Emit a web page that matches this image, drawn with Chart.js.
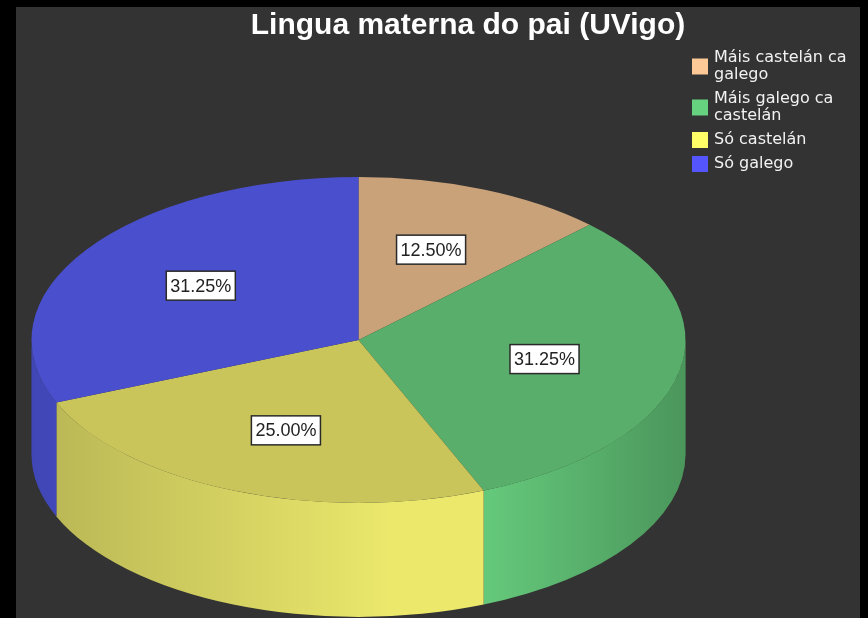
<!DOCTYPE html>
<html>
<head>
<meta charset="utf-8">
<script src="https://cdn.jsdelivr.net/npm/chart.js@4"></script>
<style>
  html, body { margin: 0; padding: 0; background: #000; }
  #wrap { position: absolute; left: 16px; top: 7px; width: 844px; height: 611px; background: #333333; }
</style>
</head>
<body>
<div id="wrap"><canvas id="chart"></canvas></div>
<script>
const title = 'Lingua materna do pai (UVigo)'
const categories = [
  ['Máis castelán ca', 'galego'],
  ['Máis galego ca', 'castelán'],
  ['Só castelán'],
  ['Só galego']
]
const percents = [12.5, 31.25, 25.0, 31.25]

const topColors = ['#c9a27a', '#58ae6a', '#c9c55b', '#4a4fcd']
const sideColors = ['#e6b98c', '#64c87a', '#ebe86c', '#525ae8']
const legendColors = ['#fec897', '#66d27f', '#fefe66', '#5555fe']

// ellipse the flat pie is projected onto (canvas px)
const PIE = { cx: 342.5, cy: 333, rx: 327, ry: 163, depth: 114 }

const pie3d = {
  id: 'pie3d',
  beforeDatasetsDraw (chart) {
    const ctx = chart.ctx
    const meta = chart.getDatasetMeta(0)
    const { x, y, outerRadius } = meta.data[0].getProps(['x', 'y', 'outerRadius'], true)

    // side walls, only the front half (angles 0..PI) is visible
    const shade = ctx.createLinearGradient(PIE.cx - PIE.rx, 0, PIE.cx + PIE.rx, 0)
    shade.addColorStop(0, 'rgba(0,0,0,0.22)')
    shade.addColorStop(0.55, 'rgba(0,0,0,0)')
    shade.addColorStop(0.7, 'rgba(0,0,0,0)')
    shade.addColorStop(1, 'rgba(0,0,0,0.25)')
    meta.data.forEach((arc, i) => {
      const { startAngle, endAngle } = arc.getProps(['startAngle', 'endAngle'], true)
      const a1 = Math.max(startAngle, 0)
      const a2 = Math.min(endAngle, Math.PI)
      if (a1 >= a2) return
      ctx.beginPath()
      ctx.ellipse(PIE.cx, PIE.cy, PIE.rx, PIE.ry, 0, a1, a2)
      ctx.ellipse(PIE.cx, PIE.cy + PIE.depth, PIE.rx, PIE.ry, 0, a2, a1, true)
      ctx.closePath()
      ctx.fillStyle = sideColors[i]
      ctx.fill()
      ctx.fillStyle = shade
      ctx.fill()
    })

    ctx.save()
    ctx.translate(PIE.cx, PIE.cy)
    ctx.scale(PIE.rx / outerRadius, PIE.ry / outerRadius)
    ctx.translate(-x, -y)
  },
  afterDatasetsDraw (chart) {
    const ctx = chart.ctx
    ctx.restore()

    // value labels
    const meta = chart.getDatasetMeta(0)
    ctx.font = '18px "Liberation Sans", Arial, sans-serif'
    ctx.textAlign = 'center'
    ctx.textBaseline = 'middle'
    meta.data.forEach((arc, i) => {
      const { startAngle, endAngle } = arc.getProps(['startAngle', 'endAngle'], true)
      const mid = (startAngle + endAngle) / 2
      const lx = PIE.cx + Math.cos(mid) * PIE.rx * 0.58
      const ly = PIE.cy + Math.sin(mid) * PIE.ry * 0.6
      const text = percents[i].toFixed(2) + '%'
      const w = ctx.measureText(text).width + 8
      const h = 29
      ctx.fillStyle = '#ffffff'
      ctx.fillRect(lx - w / 2, ly - h / 2, w, h)
      ctx.lineWidth = 1.5
      ctx.strokeStyle = '#2a2a2a'
      ctx.strokeRect(lx - w / 2, ly - h / 2, w, h)
      ctx.fillStyle = '#222222'
      ctx.fillText(text, lx, ly + 1)
    })
  },
  afterDraw (chart) {
    // legend on the right, multi-line entries
    const ctx = chart.ctx
    const boxX = chart.width - 168
    const textX = boxX + 22
    const lineH = 17
    let yy = 51
    ctx.save()
    ctx.font = '16px "DejaVu Sans", sans-serif'
    ctx.textAlign = 'left'
    ctx.textBaseline = 'middle'
    categories.forEach((lines, i) => {
      const boxY = yy + (lines.length - 1) * lineH / 2
      ctx.fillStyle = legendColors[i]
      ctx.fillRect(boxX, boxY - 8, 16, 16)
      ctx.fillStyle = '#f2f2f2'
      lines.forEach((ln, j) => ctx.fillText(ln, textX, yy + j * lineH))
      yy += lines.length * lineH + 7
    })
    ctx.restore()
  }
}

new Chart(document.getElementById('chart'), {
  type: 'pie',
  data: {
    labels: categories,
    datasets: [{
      data: percents,
      backgroundColor: topColors,
      borderWidth: 0,
      clip: false
    }]
  },
  options: {
    responsive: true,
    maintainAspectRatio: false,
    animation: false,
    layout: { padding: { left: 60 } },
    plugins: {
      legend: { display: false },
      tooltip: { enabled: false },
      title: {
        display: true,
        text: title,
        color: '#ffffff',
        font: { family: '"Liberation Sans", Arial, sans-serif', size: 30, weight: 'bold', lineHeight: 1 },
        padding: { top: 4, bottom: 10 }
      }
    }
  },
  plugins: [pie3d]
})
</script>
</body>
</html>
